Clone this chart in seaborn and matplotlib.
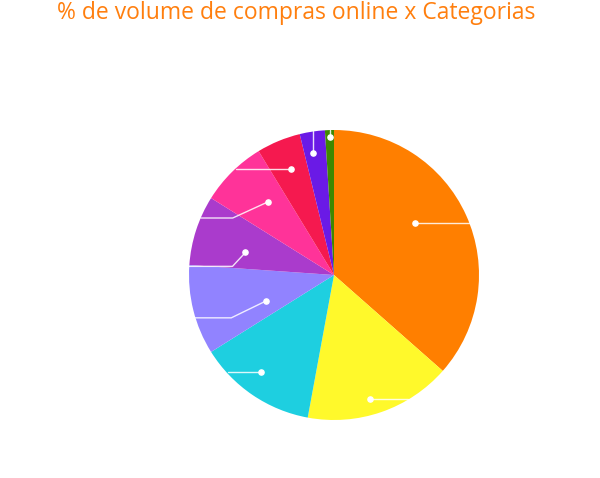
"""
Pizza — % de volume de compras online por categoria
"""

import numpy as np
import matplotlib
matplotlib.use("Agg")
import matplotlib.pyplot as plt
import seaborn as sns

sns.set_theme(style="white")
plt.rcParams["font.family"] = ["Liberation Sans Narrow", "Open Sans", "DejaVu Sans"]

# dados (fatias no sentido horário a partir do topo)
categorias = ["Cat 1", "Cat 2", "Cat 3", "Cat 4", "Cat 5", "Cat 6", "Cat 7", "Cat 8", "Cat 9"]
valores = [36.5, 16.4, 13.2, 10.0, 7.8, 7.4, 4.9, 2.8, 1.0]
cores = ["#FF7F00", "#FFF92B", "#1ECFE0", "#9183FF", "#AA3BCC",
         "#FF3399", "#F5194F", "#6A1AE6", "#3F8800"]

# posição dos pontos: fração angular dentro da fatia e fração do raio
frac_ang = [0.436, 0.55, 0.56, 0.31, 0.37, 0.59, 0.52, 0.37, 0.5]
raio_ponto = [0.66, 0.89, 0.84, 0.50, 0.63, 0.68, 0.79, 0.855, 0.95]
# cotovelo e fim das linhas-guia (px de deslocamento a partir do ponto)
cotovelo = [None, None, None, (-35, -17), (-13, -14), (-35, -16), None, None, None]
fim = [(55, 0), (38, 0), (-33, 0), (-72, -17), (-57, -14), (-67, -16), (-55, 0), (0, 22), (0, 7)]

fig = plt.figure(figsize=(6.0, 4.78), dpi=100)
R_PX = 145
ax = fig.add_axes([(334 - R_PX) / 600, (478 - 275 - R_PX) / 478,
                   2 * R_PX / 600, 2 * R_PX / 478])

wedges, _ = ax.pie(valores, colors=sns.color_palette(cores), startangle=90,
                   counterclock=False, radius=1.0,
                   wedgeprops={"linewidth": 0})
ax.set_xlim(-1, 1)
ax.set_ylim(-1, 1)
ax.set_aspect("equal")
ax.axis("off")

# linhas-guia brancas com ponto
escala = 1.0 / R_PX
for w, fa, rp, cot, f in zip(wedges, frac_ang, raio_ponto, cotovelo, fim):
    # pizza no sentido horário: theta2 é o início da fatia
    ang = np.deg2rad(w.theta2 - fa * (w.theta2 - w.theta1))
    x0, y0 = rp * np.cos(ang), rp * np.sin(ang)
    xs, ys = [x0], [y0]
    if cot is not None:
        xs.append(x0 + cot[0] * escala)
        ys.append(y0 + cot[1] * escala)
    xs.append(x0 + f[0] * escala)
    ys.append(y0 + f[1] * escala)
    ax.plot(xs, ys, color="white", lw=1.0, alpha=0.85, clip_on=False, zorder=3)
    ax.scatter([x0], [y0], s=14, color="white", zorder=4, clip_on=False)

fig.text(0.494, 0.972, "% de volume de compras online x Categorias",
         ha="center", va="center", fontsize=16.5, color="#FF7F0E")

fig.savefig("out.png", dpi=100)
plt.close(fig)
